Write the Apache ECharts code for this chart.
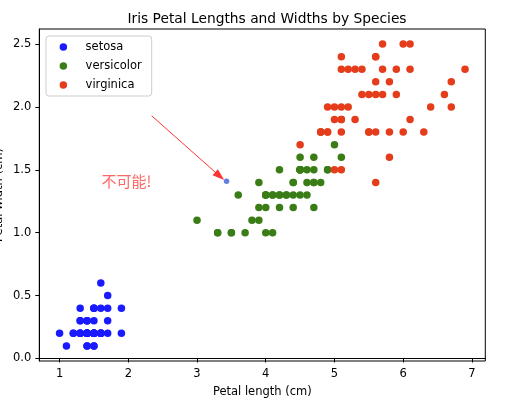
<!DOCTYPE html>
<html><head><meta charset="utf-8">
<script src="https://cdn.jsdelivr.net/npm/echarts/dist/echarts.min.js"></script>
<style>html,body{margin:0;padding:0;background:#fff}#c{width:518px;height:409px}</style>
</head><body><div id="c"></div>
<script>
const speciesNames = ['setosa', 'versicolor', 'virginica'];
const setosaLength = [1.4,1.4,1.3,1.5,1.4,1.7,1.4,1.5,1.4,1.5,1.5,1.6,1.4,1.1,1.2,1.5,1.3,1.4,1.7,1.5,1.7,1.5,1.0,1.7,1.9,1.6,1.6,1.5,1.4,1.6,1.6,1.5,1.5,1.4,1.5,1.2,1.3,1.4,1.3,1.5,1.3,1.3,1.3,1.6,1.9,1.4,1.6,1.4,1.5,1.4];
const setosaWidth  = [0.2,0.2,0.2,0.2,0.2,0.4,0.3,0.2,0.2,0.1,0.2,0.2,0.1,0.1,0.2,0.4,0.4,0.3,0.3,0.3,0.2,0.4,0.2,0.5,0.2,0.2,0.4,0.2,0.2,0.2,0.2,0.4,0.1,0.2,0.2,0.2,0.2,0.1,0.2,0.2,0.3,0.3,0.2,0.6,0.4,0.3,0.2,0.2,0.2,0.2];
const versicolorLength = [4.7,4.5,4.9,4.0,4.6,4.5,4.7,3.3,4.6,3.9,3.5,4.2,4.0,4.7,3.6,4.4,4.5,4.1,4.5,3.9,4.8,4.0,4.9,4.7,4.3,4.4,4.8,5.0,4.5,3.5,3.8,3.7,3.9,5.1,4.5,4.5,4.7,4.4,4.1,4.0,4.4,4.6,4.0,3.3,4.2,4.2,4.2,4.3,3.0,4.1];
const versicolorWidth  = [1.4,1.5,1.5,1.3,1.5,1.3,1.6,1.0,1.3,1.4,1.0,1.5,1.0,1.4,1.3,1.4,1.5,1.0,1.5,1.1,1.8,1.3,1.5,1.2,1.3,1.4,1.4,1.7,1.5,1.0,1.1,1.0,1.2,1.6,1.5,1.6,1.5,1.3,1.3,1.3,1.2,1.4,1.2,1.0,1.3,1.2,1.3,1.3,1.1,1.3];
const virginicaLength = [6.0,5.1,5.9,5.6,5.8,6.6,4.5,6.3,5.8,6.1,5.1,5.3,5.5,5.0,5.1,5.3,5.5,6.7,6.9,5.0,5.7,4.9,6.7,4.9,5.7,6.0,4.8,4.9,5.6,5.8,6.1,6.4,5.6,5.1,5.6,6.1,5.6,5.5,4.8,5.4,5.6,5.1,5.1,5.9,5.7,5.2,5.0,5.2,5.4,5.1];
const virginicaWidth  = [2.5,1.9,2.1,1.8,2.2,2.1,1.7,1.8,1.8,2.5,2.0,1.9,2.1,2.0,2.4,2.3,1.8,2.2,2.3,1.5,2.3,2.0,2.0,1.8,2.1,1.8,1.8,1.8,2.1,1.6,1.9,2.0,2.2,1.5,1.4,2.3,2.4,1.8,1.8,2.1,2.4,2.3,1.9,2.3,2.5,2.3,1.9,2.0,2.3,1.8];
const anomalyPoint = [3.43, 1.41];
const arrowStart = [2.34, 1.93];
const arrowEnd = [3.33, 1.45];
const notePos = [1.61, 1.41];
const noteText = '不可能!';
const xTicks = [1, 2, 3, 4, 5, 6, 7];
const yTicks = [0.0, 0.5, 1.0, 1.5, 2.0, 2.5];

const zip = (a, b) => a.map((v, i) => [v, b[i]]);
const colors = ['#1a1aff', '#3a7d17', '#e53d1c'];
const font = 'DejaVu Sans';

const chart = echarts.init(document.getElementById('c'), null, {renderer: 'canvas'});
const makeSeries = (name, data, color) => ({
  name, type: 'scatter', data, symbolSize: 7.5,
  itemStyle: {color, opacity: 1}, emphasis: {disabled: true}
});
chart.setOption({
  animation: false,
  backgroundColor: '#fff',
  title: {
    text: 'Iris Petal Lengths and Widths by Species',
    left: 262, top: 7, textAlign: 'center',
    textStyle: {fontFamily: font, fontSize: 13.8, fontWeight: 'normal', color: '#000'}
  },
  legend: {
    data: speciesNames,
    orient: 'vertical', left: 46, top: 36,
    icon: 'circle', itemWidth: 7.5, itemHeight: 7.5, itemGap: 5,
    padding: [4, 10, 4, 13.6],
    borderColor: '#cccccc', borderWidth: 1, borderRadius: 3, backgroundColor: '#fff',
    textStyle: {fontFamily: font, fontSize: 11.5, color: '#000', lineHeight: 14, padding: [0, 0, 0, 13.5]}
  },
  grid: {left: 39.3, right: 32.7, top: 29, bottom: 48, show: true, borderColor: '#000', borderWidth: 1, containLabel: false, outerBoundsMode: 'none'},
  xAxis: {
    type: 'value', min: 0.705, max: 7.195,
    name: 'Petal length (cm)', nameLocation: 'middle', nameGap: 25,
    nameTextStyle: {fontFamily: font, fontSize: 11.5, color: '#000'},
    axisLine: {show: true, lineStyle: {color: '#000', width: 1}},
    axisTick: {show: true, length: 4, lineStyle: {color: '#000'}, customValues: xTicks},
    axisLabel: {customValues: xTicks, margin: 7, fontFamily: font, fontSize: 11.5, color: '#000', formatter: v => String(v)},
    splitLine: {show: false}
  },
  yAxis: {
    type: 'value', min: -0.02, max: 2.62,
    name: 'Petal width (cm)', nameLocation: 'middle', nameGap: 34, nameRotate: 90, nameMoveOverlap: false,
    nameTextStyle: {fontFamily: font, fontSize: 11.5, color: '#000'},
    axisLine: {show: true, lineStyle: {color: '#000', width: 1}},
    axisTick: {show: true, length: 4, lineStyle: {color: '#000'}, customValues: yTicks},
    axisLabel: {customValues: yTicks, margin: 8, fontFamily: font, fontSize: 11.5, color: '#000', formatter: v => v.toFixed(1)},
    splitLine: {show: false}
  },
  series: [
    makeSeries(speciesNames[0], zip(setosaLength, setosaWidth), colors[0]),
    makeSeries(speciesNames[1], zip(versicolorLength, versicolorWidth), colors[1]),
    makeSeries(speciesNames[2], zip(virginicaLength, virginicaWidth), colors[2]),
    {
      name: 'anomaly', type: 'scatter', data: [anomalyPoint], symbolSize: 5.5,
      itemStyle: {color: '#3b5fd8'}, emphasis: {disabled: true},
      markLine: {
        silent: true, symbol: ['none', 'triangle'], symbolSize: [8, 12],
        lineStyle: {color: '#ff3333', width: 1, type: 'solid'},
        label: {show: false},
        data: [[{coord: arrowStart}, {coord: arrowEnd}]]
      }
    },
    {
      name: 'note', type: 'scatter', data: [notePos], symbolSize: 0, silent: true,
      label: {
        show: true, position: 'right', distance: 0, formatter: noteText,
        fontFamily: 'Noto Sans CJK SC', fontSize: 15, color: '#ff4040'
      }
    }
  ]
});
</script></body></html>
